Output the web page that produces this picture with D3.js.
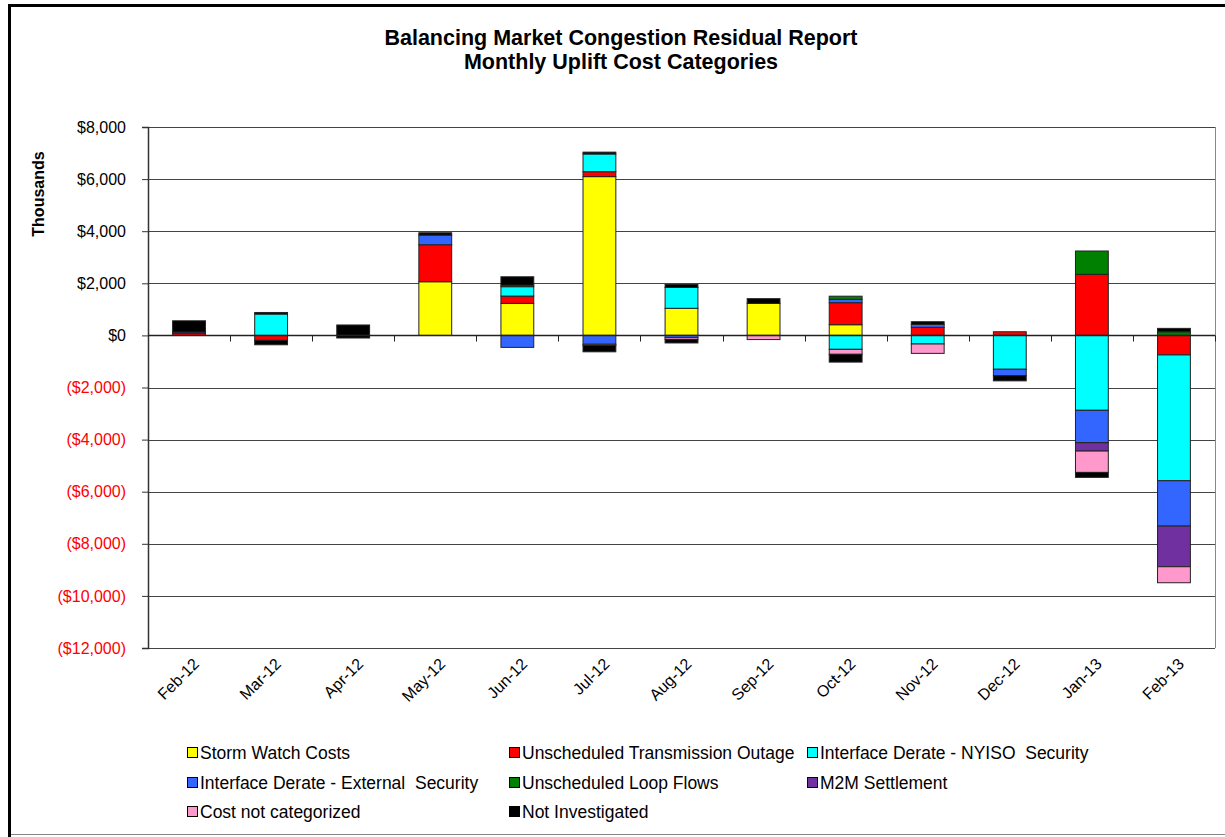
<!DOCTYPE html>
<html>
<head>
<meta charset="utf-8">
<script src="https://cdn.jsdelivr.net/npm/d3@7"></script>
<style>
    body { margin: 0; background: #fff; }
    svg { display: block; font-family: "Liberation Sans", Arial, sans-serif; }
    text { white-space: pre; }
</style>
</head>
<body>
<svg width="1225" height="837"></svg>
<script>
// months along the x axis
var months = [ 'Feb-12', 'Mar-12', 'Apr-12', 'May-12', 'Jun-12', 'Jul-12', 'Aug-12',
               'Sep-12', 'Oct-12', 'Nov-12', 'Dec-12', 'Jan-13', 'Feb-13' ];

// values in $ thousands
var stormWatch        = [ 0, 0, 0, 2060, 1230, 6095, 1040, 1230, 410, 0, 0, 0, 0 ];
var transOutage       = [ 80, -190, 0, 1420, 280, 190, 0, 0, 845, 310, 140, 2345, -750 ];
var nyisoSecurity     = [ 0, 820, 0, 0, 360, 680, 800, 0, -535, -330, -1300, -2875, -4830 ];
var externalSecurity  = [ 50, 0, 0, 370, -460, -340, -90, 0, 130, 115, -245, -1245, -1740 ];
var loopFlows         = [ 0, 0, 0, 0, 60, 0, 0, 0, 120, 0, 0, 895, 140 ];
var m2mSettlement     = [ 0, 0, 0, 0, 0, 0, 0, 0, 0, 0, 0, -320, -1560 ];
var notCategorized    = [ 0, 0, 0, 0, 0, -45, -70, -160, -190, -360, 0, -820, -615 ];
var notInvestigated   = [ 430, 60, 400, 90, 320, 70, 115, 180, 0, 100, 0, 0, 130 ];
var notInvestigatedNeg = [ 0, -170, -100, 0, 0, -245, -130, 0, -300, 0, -200, -190, 0 ];

var yTicks = [ 8000, 6000, 4000, 2000, 0, -2000, -4000, -6000, -8000, -10000, -12000 ];

var series = [
    { key: 'storm',  name: 'Storm Watch Costs',                   values: stormWatch,         color: '#ffff00' },
    { key: 'outage', name: 'Unscheduled Transmission Outage',     values: transOutage,        color: '#ff0000' },
    { key: 'nyiso',  name: 'Interface Derate - NYISO  Security',  values: nyisoSecurity,      color: '#00ffff' },
    { key: 'ext',    name: 'Interface Derate - External  Security', values: externalSecurity, color: '#3366ff' },
    { key: 'loop',   name: 'Unscheduled Loop Flows',              values: loopFlows,          color: '#008000' },
    { key: 'm2m',    name: 'M2M Settlement',                      values: m2mSettlement,      color: '#7030a0' },
    { key: 'cnc',    name: 'Cost not categorized',                values: notCategorized,     color: '#ff99cc' },
    { key: 'ni',     name: 'Not Investigated',                    values: notInvestigated,    color: '#000000' },
    { key: 'niNeg',  name: null,                                  values: notInvestigatedNeg, color: '#000000' }
];

var rows = months.map( function( m, i ) {
    var row = { month: m };
    series.forEach( function( s ) { row[ s.key ] = s.values[ i ]; } );
    return row;
} );

var svg = d3.select( 'svg' ),
    margin = { top: 127, right: 10, bottom: 189, left: 148 },
    width  = 1215 - margin.left,
    height = 648 - margin.top;

// outer frame
svg.append( 'line' ).attr( 'x1', 9.5 ).attr( 'x2', 9.5 ).attr( 'y1', 4 ).attr( 'y2', 837 )
    .attr( 'stroke', '#000' ).attr( 'stroke-width', 3 );
svg.append( 'line' ).attr( 'x1', 8 ).attr( 'x2', 1225 ).attr( 'y1', 5.5 ).attr( 'y2', 5.5 )
    .attr( 'stroke', '#000' ).attr( 'stroke-width', 3 );
svg.append( 'line' ).attr( 'x1', 11 ).attr( 'x2', 1225 ).attr( 'y1', 834.5 ).attr( 'y2', 834.5 )
    .attr( 'stroke', '#888' ).attr( 'stroke-width', 1 );

// title
svg.append( 'text' ).attr( 'x', 621 ).attr( 'y', 45 ).attr( 'text-anchor', 'middle' )
    .attr( 'font-size', 21.5 ).attr( 'font-weight', 'bold' )
    .text( 'Balancing Market Congestion Residual Report' );
svg.append( 'text' ).attr( 'x', 621 ).attr( 'y', 69 ).attr( 'text-anchor', 'middle' )
    .attr( 'font-size', 21.5 ).attr( 'font-weight', 'bold' )
    .text( 'Monthly Uplift Cost Categories' );

var x = d3.scaleBand().domain( months ).range( [ 0, width ] ).paddingInner( 0.6 ).paddingOuter( 0.3 ),
    y = d3.scaleLinear().domain( [ -12000, 8000 ] ).range( [ height, 0 ] );

var g = svg.append( 'g' )
    .attr( 'transform', 'translate(' + margin.left + ',' + margin.top + ')' );

// gridlines
g.selectAll( '.grid' )
    .data( yTicks )
    .enter().append( 'line' )
    .attr( 'x1', 0 ).attr( 'x2', width )
    .attr( 'y1', function( d ) { return Math.round( y( d ) ) + 0.5; } )
    .attr( 'y2', function( d ) { return Math.round( y( d ) ) + 0.5; } )
    .attr( 'stroke', '#444' ).attr( 'stroke-width', 1 );

// plot border right
g.append( 'line' ).attr( 'x1', width + 0.5 ).attr( 'x2', width + 0.5 ).attr( 'y1', 0 ).attr( 'y2', height )
    .attr( 'stroke', '#888' );

// y axis
var yAxis = g.append( 'g' )
    .call( d3.axisLeft( y ).tickValues( yTicks ).tickSize( 6 ).tickPadding( 16 )
        .tickFormat( function( d ) {
            var s = '$' + d3.format( ',' )( Math.abs( d ) );
            return d < 0 ? '(' + s + ')' : s;
        } ) );
yAxis.select( '.domain' ).attr( 'stroke', '#333' ).attr( 'stroke-width', 1.5 );
yAxis.selectAll( '.tick line' ).attr( 'stroke', '#333' );
yAxis.selectAll( '.tick text' )
    .attr( 'font-size', 16 ).attr( 'font-family', '"Liberation Sans", Arial, sans-serif' )
    .attr( 'fill', function( d ) { return d < 0 ? '#ff0000' : '#000'; } );

svg.append( 'text' )
    .attr( 'transform', 'translate(44,194) rotate(-90)' )
    .attr( 'text-anchor', 'middle' ).attr( 'font-size', 16 ).attr( 'font-weight', 'bold' )
    .text( 'Thousands' );

// stacked bars
var stack = d3.stack()
    .keys( series.map( function( s ) { return s.key; } ) )
    .offset( d3.stackOffsetDiverging );

var layers = stack( rows );

g.selectAll( '.layer' )
    .data( layers )
    .enter().append( 'g' )
    .attr( 'class', 'layer' )
    .attr( 'fill', function( d, i ) { return series[ i ].color; } )
    .selectAll( 'rect' )
    .data( function( d ) { return d.filter( function( p ) { return p[ 1 ] !== p[ 0 ]; } ); } )
    .enter().append( 'rect' )
    .attr( 'x', function( d ) { return x( d.data.month ); } )
    .attr( 'width', x.bandwidth() )
    .attr( 'y', function( d ) { return y( d[ 1 ] ); } )
    .attr( 'height', function( d ) { return y( d[ 0 ] ) - y( d[ 1 ] ); } )
    .attr( 'stroke', '#222' ).attr( 'stroke-width', 1 );

// category axis on the zero line
var step = x.step(),
    xAxis = g.append( 'g' )
        .attr( 'transform', 'translate(0,' + ( Math.round( y( 0 ) ) + 0.5 ) + ')' );
xAxis.append( 'line' ).attr( 'x1', 0 ).attr( 'x2', width ).attr( 'stroke', '#222' ).attr( 'stroke-width', 1.5 );
xAxis.selectAll( '.xtick' )
    .data( months.slice( 1 ).concat( [ null ] ) )
    .enter().append( 'line' )
    .attr( 'x1', function( d, i ) { return Math.round( step * ( i + 1 ) ) + 0.5; } )
    .attr( 'x2', function( d, i ) { return Math.round( step * ( i + 1 ) ) + 0.5; } )
    .attr( 'y1', 0 ).attr( 'y2', 6 )
    .attr( 'stroke', '#222' );

// rotated month labels below plot
g.selectAll( '.xlabel' )
    .data( months )
    .enter().append( 'text' )
    .attr( 'text-anchor', 'end' )
    .attr( 'font-size', 16 )
    .attr( 'transform', function( d ) {
        return 'translate(' + ( x( d ) + x.bandwidth() / 2 + 11 ) + ',' + ( height + 17 ) + ') rotate(-45)';
    } )
    .text( function( d ) { return d; } );

// legend
var legendPos = [ [ 187, 747 ], [ 509, 747 ], [ 807, 747 ],
                  [ 187, 777 ], [ 509, 777 ], [ 807, 777 ],
                  [ 187, 806 ], [ 509, 806 ] ],
    legend = svg.selectAll( '.legend' )
        .data( series.filter( function( s ) { return s.name; } ) )
        .enter().append( 'g' )
        .attr( 'transform', function( d, i ) { return 'translate(' + legendPos[ i ][ 0 ] + ',' + legendPos[ i ][ 1 ] + ')'; } );

legend.append( 'rect' )
    .attr( 'x', 0.5 ).attr( 'y', 0.5 ).attr( 'width', 10 ).attr( 'height', 10 )
    .attr( 'fill', function( d ) { return d.color; } )
    .attr( 'stroke', '#000' ).attr( 'stroke-width', 1 );
legend.append( 'text' )
    .attr( 'x', 13 ).attr( 'y', 12 )
    .attr( 'font-size', 17.5 )
    .text( function( d ) { return d.name; } );
</script>
</body>
</html>
